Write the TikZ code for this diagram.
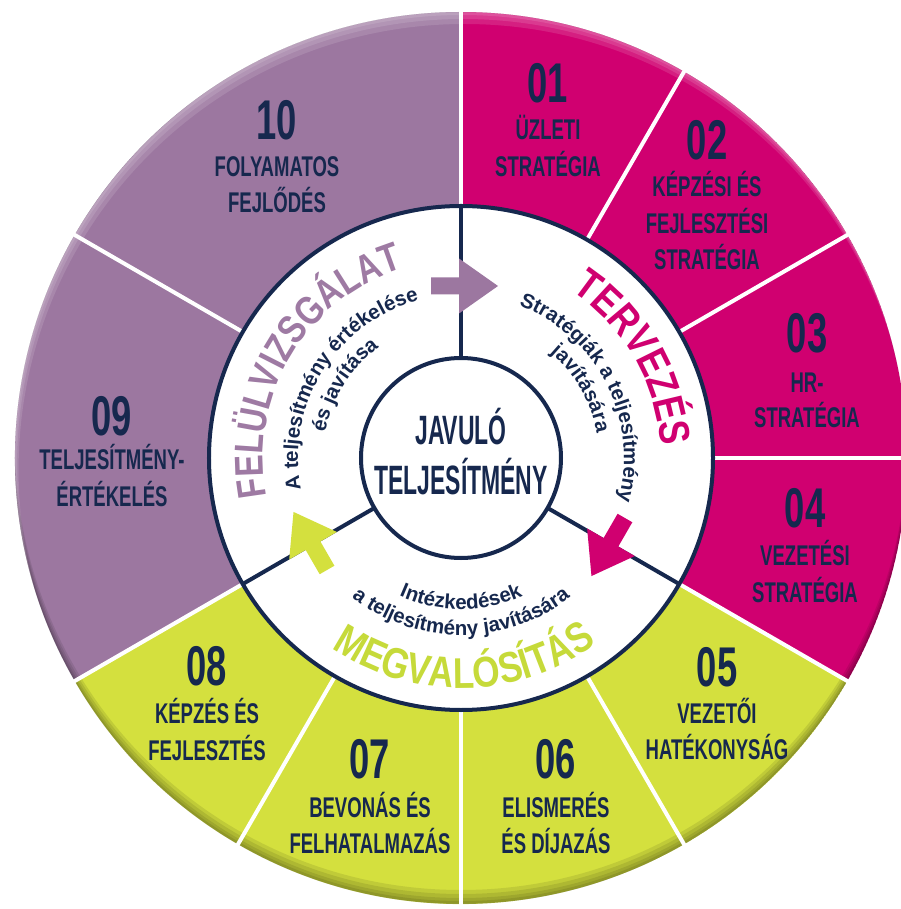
\documentclass[tikz,border=0pt]{standalone}
\usepackage{fontspec}
\setmainfont{Liberation Sans}
\newfontfamily\condA{Liberation Sans}[FakeStretch=0.65]
\newfontfamily\condB{Liberation Sans}[FakeStretch=0.56]
\newfontfamily\condC{Liberation Sans}[FakeStretch=0.82]
\usetikzlibrary{decorations.text}
\definecolor{navy}{RGB}{22,40,78}
\definecolor{pinkc}{RGB}{208,0,112}
\definecolor{purpc}{RGB}{156,119,160}
\definecolor{yelc}{RGB}{212,224,62}
\definecolor{purpt}{RGB}{158,122,163}
\definecolor{yelt}{RGB}{198,218,58}
\tikzset{
  num/.style={font=\condA\bfseries\fontsize{56}{56}\selectfont, text=navy, anchor=base, inner sep=0pt},
  lab/.style={font=\condA\bfseries\fontsize{28.5}{28.5}\selectfont, text=navy, anchor=base, inner sep=0pt},
  ctr/.style={font=\condB\bfseries\fontsize{41}{41}\selectfont, text=navy, anchor=base, inner sep=0pt},
  wline/.style={white, line width=4pt},
  nline/.style={navy, line width=4pt},
  curved/.style={decorate, decoration={text along path, text align=center, text={#1}}}
}
\begin{document}
\begin{tikzpicture}[x=1pt,y=1pt]
\useasboundingbox (-461,-451) rectangle (439,458);
% outer sectors
\fill[pinkc] (0,0) -- (90:446) arc[start angle=90, end angle=-30, radius=446] -- cycle;
\fill[yelc] (0,0) -- (-30:446) arc[start angle=-30, end angle=-150, radius=446] -- cycle;
\fill[purpc] (0,0) -- (210:446) arc[start angle=210, end angle=90, radius=446] -- cycle;
% rim shading
\begin{scope}
  \clip (0,0) circle (446);
  \foreach \d in {3,6,10,14} {
    \fill[black, opacity=0.09, even odd rule] (0,0) circle (446) (0,\d) circle (446);
  }
  \foreach \d in {3,7,12} {
    \fill[white, opacity=0.12, even odd rule] (0,0) circle (446) (0.3*\d,-\d) circle (446);
  }
\end{scope}
% white dividers
\foreach \a in {90,60,30,0,-30,-60,-90,-120,-150,150} {
  \draw[wline] (\a:250) -- (\a:448);
}
% white ring
\fill[white] (0,0) circle (252);
\draw[nline] (0,0) circle (252);
\foreach \a in {90,-30,210} {
  \draw[nline] (\a:100) -- (\a:252);
}
\node[circle, draw=navy, line width=4pt, fill=white, minimum size=200pt, inner sep=0pt] (core) at (0,0) {};
% arrows
\foreach \r/\c in {0/purpc, -120/pinkc, 120/yelc} {
  \begin{scope}[rotate=\r]
    \fill[\c] (-30,163.5) -- (-2,163.5) -- (-2,144.5) -- (37,172) -- (-2,199.5) -- (-2,180.5) -- (-30,180.5) -- cycle;
  \end{scope}
}
% centre text
\node[ctr] (jav) at (0,13) {JAVULÓ};
\node[ctr] (telj) at (0,-37) {TELJESÍTMÉNY};
% curved headings
\path[curved={|\condC\bfseries\fontsize{40}{40}\selectfont\color{purpt}|FELÜLVIZSGÁLAT}] (209:198) arc[start angle=209, end angle=89, radius=198];
\path[curved={|\condC\bfseries\fontsize{43}{43}\selectfont\color{pinkc}|TERVEZÉS}] (90:200) arc[start angle=90, end angle=-30, radius=200];
\path[curved={|\condC\bfseries\fontsize{43}{43}\selectfont\color{yelt}|MEGVALÓSÍTÁS}] (211:230) arc[start angle=211, end angle=331, radius=230];
% curved small texts
\path[curved={|\bfseries\fontsize{20.5}{20.5}\selectfont\color{navy}|A teljesítmény értékelése}] (232:163) arc[start angle=232, end angle=64, radius=163];
\path[curved={|\bfseries\fontsize{20.5}{20.5}\selectfont\color{navy}|és javítása}] (220:138) arc[start angle=220, end angle=76, radius=138];
\path[curved={|\bfseries\fontsize{20.5}{20.5}\selectfont\color{navy}|Stratégiák a teljesítmény}] (111:163) arc[start angle=111, end angle=-57, radius=163];
\path[curved={|\bfseries\fontsize{20.5}{20.5}\selectfont\color{navy}|javítására}] (102:138) arc[start angle=102, end angle=-42, radius=138];
\path[curved={|\bfseries\fontsize{20.5}{20.5}\selectfont\color{navy}|Intézkedések}] (200:151) arc[start angle=200, end angle=340, radius=151];
\path[curved={|\bfseries\fontsize{20.5}{20.5}\selectfont\color{navy}|a teljesítmény javítására}] (190:177) arc[start angle=190, end angle=350, radius=177];
% segment labels
\node[num] (n01) at (87,355) {01};
\node[lab] (l01a) at (87,318) {ÜZLETI};
\node[lab] (l01b) at (87,281) {STRATÉGIA};
\node[num] (n02) at (246,298) {02};
\node[lab] (l02a) at (246,261) {KÉPZÉSI ÉS};
\node[lab] (l02b) at (246,224) {FEJLESZTÉSI};
\node[lab] (l02c) at (246,188) {STRATÉGIA};
\node[num] (n03) at (346,105) {03};
\node[lab] (l03a) at (346,65) {HR-};
\node[lab] (l03b) at (346,30) {STRATÉGIA};
\node[num] (n04) at (344,-70) {04};
\node[lab] (l04a) at (344,-107) {VEZETÉSI};
\node[lab] (l04b) at (344,-144) {STRATÉGIA};
\node[num] (n05) at (256,-228) {05};
\node[lab] (l05a) at (256,-265) {VEZETŐI};
\node[lab] (l05b) at (256,-301) {HATÉKONYSÁG};
\node[num] (n06) at (95,-320) {06};
\node[lab] (l06a) at (95,-359) {ELISMERÉS};
\node[lab] (l06b) at (95,-395) {ÉS DÍJAZÁS};
\node[num] (n07) at (-91,-320) {07};
\node[lab] (l07a) at (-91,-359) {BEVONÁS ÉS};
\node[lab] (l07b) at (-91,-395) {FELHATALMAZÁS};
\node[num] (n08) at (-254,-227) {08};
\node[lab] (l08a) at (-254,-265) {KÉPZÉS ÉS};
\node[lab] (l08b) at (-254,-302) {FEJLESZTÉS};
\node[num] (n09) at (-349,22) {09};
\node[lab] (l09a) at (-349,-12) {TELJESÍTMÉNY-};
\node[lab] (l09b) at (-349,-49) {ÉRTÉKELÉS};
\node[num] (n10) at (-184,318) {10};
\node[lab] (l10a) at (-184,281) {FOLYAMATOS};
\node[lab] (l10b) at (-184,245) {FEJLŐDÉS};
\end{tikzpicture}
\end{document}
